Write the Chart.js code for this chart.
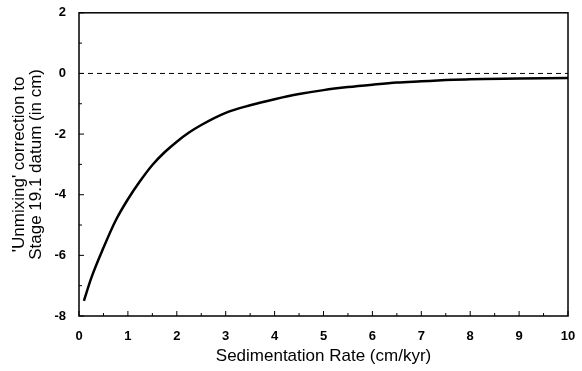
<!DOCTYPE html>
<html>
<head>
<meta charset="utf-8">
<script src="https://cdn.jsdelivr.net/npm/chart.js@4/dist/chart.umd.min.js"></script>
<style>
  html, body { margin: 0; padding: 0; background: #fff; }
  #wrap { width: 582px; height: 371px; }
</style>
</head>
<body>
<div id="wrap"><canvas id="chart"></canvas></div>
<script>
// Sedimentation rate (cm/kyr) and correction (cm)
const rates = [0.1, 0.25, 0.5, 0.75, 1.0, 1.25, 1.5, 1.75, 2.0, 2.25, 2.5, 3.0, 3.5, 4.0, 4.5, 5.0, 5.5, 6.0, 6.5, 7.0, 7.5, 8.0, 9.0, 10.0];
const corrections = [-7.5, -6.75, -5.75, -4.85, -4.15, -3.55, -3.02, -2.6, -2.25, -1.95, -1.7, -1.3, -1.05, -0.85, -0.68, -0.55, -0.45, -0.37, -0.3, -0.26, -0.22, -0.19, -0.17, -0.15];
const zeroLineX = [0, 10];
const zeroLineY = [0, 0];
const xMinorTicks = [0.5, 1.5, 2.5, 3.5, 4.5, 5.5, 6.5, 7.5, 8.5, 9.5];
const yMinorTicks = [-7, -5, -3, -1, 1];

const FONT = "'Liberation Sans', Arial, sans-serif";

// frame + inward ticks, positioned through the chart scales
const framePlugin = {
  id: 'frame',
  afterDraw(chart) {
    const { ctx, chartArea: a, scales: { x, y } } = chart;
    ctx.save();
    ctx.strokeStyle = '#000';
    ctx.lineWidth = 1.5;
    ctx.strokeRect(a.left, a.top, a.right - a.left, a.bottom - a.top);
    ctx.lineWidth = 1;
    ctx.beginPath();
    x.ticks.forEach(t => {
      const px = x.getPixelForValue(t.value);
      ctx.moveTo(px, a.bottom); ctx.lineTo(px, a.bottom - 5);
    });
    xMinorTicks.forEach(v => {
      const px = x.getPixelForValue(v);
      ctx.moveTo(px, a.bottom); ctx.lineTo(px, a.bottom - 3);
    });
    y.ticks.forEach(t => {
      const py = y.getPixelForValue(t.value);
      ctx.moveTo(a.left, py); ctx.lineTo(a.left + 5, py);
    });
    yMinorTicks.forEach(v => {
      const py = y.getPixelForValue(v);
      ctx.moveTo(a.left, py); ctx.lineTo(a.left + 3, py);
    });
    ctx.stroke();
    ctx.restore();
  }
};

new Chart(document.getElementById('chart'), {
  type: 'scatter',
  data: {
    datasets: [
      {
        data: zeroLineX.map((v, i) => ({ x: v, y: zeroLineY[i] })),
        showLine: true,
        borderColor: '#000',
        borderWidth: 1,
        borderDash: [5, 4],
        pointRadius: 0
      },
      {
        data: rates.map((v, i) => ({ x: v, y: corrections[i] })),
        showLine: true,
        borderColor: '#000',
        borderWidth: 2.5,
        cubicInterpolationMode: 'monotone',
        pointRadius: 0
      }
    ]
  },
  options: {
    responsive: true,
    maintainAspectRatio: false,
    animation: false,
    layout: { padding: { top: 10, right: 14, left: 11, bottom: 0 } },
    plugins: { legend: { display: false }, tooltip: { enabled: false } },
    scales: {
      x: {
        type: 'linear', min: 0, max: 10,
        grid: { display: false },
        border: { display: false },
        ticks: { stepSize: 1, color: '#000', padding: 5, font: { family: FONT, size: 13, weight: 'bold' } },
        title: { display: true, text: 'Sedimentation Rate (cm/kyr)', color: '#000', padding: { top: 6 }, font: { family: FONT, size: 17 } },
        afterFit(s) { s.height = 55; }
      },
      y: {
        type: 'linear', min: -8, max: 2,
        grid: { display: false },
        border: { display: false },
        ticks: { stepSize: 2, color: '#000', padding: 5, font: { family: FONT, size: 13, weight: 'bold' } },
        title: { display: true, text: ["'Unmixing' correction to", 'Stage 19.1 datum (in cm)'], color: '#000', padding: 0, font: { family: FONT, size: 17, lineHeight: 1.0 } },
        afterFit(s) { s.width = 68; }
      }
    }
  },
  plugins: [framePlugin]
});
</script>
</body>
</html>
